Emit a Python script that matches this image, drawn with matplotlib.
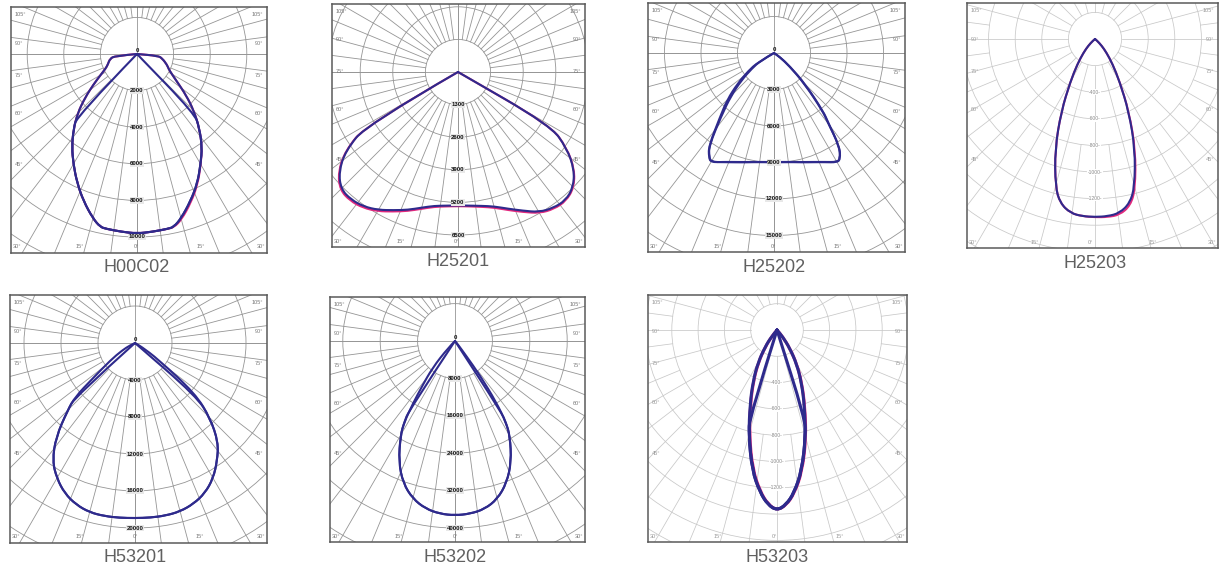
#!/usr/bin/env python3
"""配光曲线图 (7 个灯具型号的极坐标光强分布)"""

import matplotlib
matplotlib.use('Agg')
import numpy as np
import matplotlib.pyplot as plt
from matplotlib.patches import Circle, PathPatch
from matplotlib.path import Path

plt.rcParams['font.family'] = ['Liberation Sans', 'DejaVu Sans']

FIG_W, FIG_H = 1220, 571
DPI = 100
BLUE = '#2e2a8c'
PINK = '#e2287d'

# ---- 数据: 角度(度, 0 = 正下方, 左负右正) 与 光强(cd) ----
H00C02_ANG_A = [-90, -85, -80, -70, -65, -60, -55, -50, -45, -40, -35, -30, -25, -20, -15, -12, -10, -5, 0,
                5, 10, 12, 15, 20, 25, 30, 35, 40, 45, 50, 55, 60, 65, 70, 80, 85, 90]
H00C02_A = [0, 1200, 1500, 1700, 1900, 2300, 2900, 3700, 4600, 5400, 6200, 6950, 7750, 8550, 9300, 9660, 9700, 9750, 9810,
            9750, 9700, 9660, 9300, 8550, 7800, 6950, 6200, 5300, 4400, 3500, 2700, 2200, 1900, 1750, 1400, 1150, 0]
H00C02_M = [0, 1200, 1500, 1700, 1900, 2300, 2900, 3700, 4600, 5400, 6200, 6950, 7750, 8550, 9300, 9660, 9700, 9750, 9810,
            9750, 9700, 9680, 9380, 8630, 7850, 6970, 6200, 5300, 4400, 3500, 2700, 2200, 1900, 1750, 1400, 1150, 0]
H00C02_ANG_B = [-90, -44, -40, -35, -30, -25, -20, -15, -12, -10, -5, 0, 5, 10, 12, 15, 20, 25, 30, 35, 40, 44, 90]
H00C02_B = [0, 4750, 5400, 6200, 6950, 7750, 8550, 9300, 9660, 9700, 9750, 9810, 9750, 9700, 9660, 9300, 8550, 7800,
            6950, 6200, 5300, 4550, 0]

H25201_ANG = [-90, -60, -55, -50, -45, -40, -35, -30, -25, -20, -15, -10, -5, 0, 5, 10, 15, 20, 25, 30, 35, 40, 45,
              50, 55, 60, 90]
H25201_B = [0, 4200, 5475, 6200, 6600, 6640, 6550, 6350, 6080, 5850, 5600, 5420, 5350, 5320, 5350, 5420, 5550, 5800,
            6100, 6450, 6620, 6680, 6500, 6050, 5300, 4250, 0]
H25201_M = [0, 4220, 5500, 6240, 6650, 6700, 6610, 6410, 6140, 5900, 5650, 5460, 5380, 5350, 5380, 5460, 5600, 5860,
            6160, 6500, 6670, 6710, 6530, 6070, 5310, 4260, 0]

H25202_ANG = [-90, -60, -55, -50, -45, -40, -35, -32, -30, -25, -20, -15, -10, -5, 0, 5, 10, 15, 20, 25, 30, 32, 35,
              38, 40, 45, 50, 55, 60, 90]
H25202_C0 = [0, 1540, 2590, 3900, 5440, 6930, 9350, 10100, 10370, 9880, 9530, 9280, 9090, 8990, 8960, 8990, 9090, 9280,
             9530, 9880, 10350, 10250, 9370, 7190, 6370, 3700, 1700, 620, 0, 0]
H25202_C90 = [0, 1300, 2200, 3500, 5000, 6700, 9300, 10050, 10330, 9900, 9560, 9300, 9110, 9010, 8980, 9010, 9110, 9300,
              9550, 9900, 10380, 10280, 9400, 7100, 6200, 3500, 1550, 550, 0, 0]

H25203_ANG = [-90, -50, -45, -40, -35, -30, -25, -20, -15, -12, -8, -4, 0, 4, 8, 12, 15, 20, 25, 30, 35, 40, 45, 50, 90]
H25203_B = [0, 20, 70, 135, 230, 370, 600, 880, 1150, 1261, 1322, 1336, 1338, 1336, 1322, 1261, 1150, 880, 600, 370,
            230, 135, 70, 20, 0]
H25203_M = [0, 20, 70, 135, 230, 370, 600, 880, 1150, 1261, 1322, 1336, 1340, 1342, 1335, 1280, 1168, 892, 606, 372,
            231, 135, 70, 20, 0]

H53201_ANG_O = [-90, -65, -60, -55, -50, -48, -45, -40, -35, -30, -25, -20, -15, -10, -5, 0, 5, 10, 15, 20, 25, 30,
                35, 40, 45, 50, 55, 60, 90]
H53201_O = [0, 600, 1600, 3200, 6000, 8700, 10300, 13300, 15550, 16900, 17950, 18600, 18950, 19000, 18970, 18930,
            18950, 18950, 18850, 18500, 17900, 16900, 15500, 14000, 11500, 8500, 3000, 800, 0]
H53201_ANG_I = [-90, -48, -45, -40, -35, -30, -25, -20, -15, -10, -5, 0, 5, 10, 15, 20, 25, 30, 35, 40, 45, 49, 90]
H53201_I = [0, 8700, 10300, 13300, 15550, 16900, 17950, 18600, 18950, 19000, 18970, 18930, 18950, 18950, 18850, 18500,
            17900, 16900, 15500, 14000, 11500, 8800, 0]

H53202_ANG_O = [-90, -45, -40, -36, -34, -32, -30, -25, -20, -15, -10, -5, 0, 5, 10, 15, 20, 25, 30, 32, 34, 36, 37,
                40, 90]
H53202_O = [0, 2000, 7500, 12000, 16000, 20500, 23300, 28500, 32400, 34900, 36400, 37100, 37300, 37100, 36500, 35000,
            32300, 28500, 23500, 20600, 15800, 9000, 4000, 1000, 0]
H53202_ANG_I = [-90, -33.5, -32, -30, -25, -20, -15, -10, -5, 0, 5, 10, 15, 20, 25, 30, 32, 33, 90]
H53202_I = [0, 17900, 20500, 23300, 28500, 32400, 34900, 36400, 37100, 37300, 37100, 36500, 35000, 32300, 28500,
            23500, 20600, 18200, 0]

H53203_ANG_O = [-90, -40, -35, -30, -25, -20, -15, -10, -6, -3, 0, 3, 6, 10, 15, 20, 25, 30, 35, 40, 90]
H53203_O = [0, 60, 160, 290, 430, 600, 830, 1085, 1240, 1330, 1372, 1330, 1245, 1085, 840, 610, 440, 300, 170, 65, 0]
H53203_M = [0, 56, 153, 282, 420, 590, 815, 1072, 1232, 1326, 1372, 1334, 1252, 1096, 854, 620, 447, 304, 172, 66, 0]
H53203_ANG_I = [-90, -17.5, -15, -10, -6, -3, 0, 3, 6, 10, 15, 17.5, 90]
H53203_I = [0, 690, 830, 1085, 1240, 1330, 1372, 1330, 1245, 1085, 840, 700, 0]

SIDE_LABELS = ['105°', '90°', '75°', '60°', '45°']
BOTTOM_LABELS = ['30°', '15°', '0°', '15°', '30°']

# 面板布局 (像素): 框 x0, y0, x1, y1, 中心 cx, cy, 每格像素, 每格光强
PANELS = [
    {'name': 'H00C02', 'box': (11, 7, 267, 253), 'center': (137, 54), 'step_px': 36.6, 'step': 2000,
     'style': 'A', 'zero': True, 'lw': 1.5,
     'curves': [(H00C02_ANG_A, H00C02_M, PINK), (H00C02_ANG_A, H00C02_A, BLUE), (H00C02_ANG_B, H00C02_B, BLUE)]},
    {'name': 'H25201', 'box': (332, 4, 585, 247), 'center': (458, 72), 'step_px': 32.6, 'step': 1300,
     'style': 'A', 'zero': False, 'lw': 1.5,
     'curves': [(H25201_ANG, H25201_M, PINK), (H25201_ANG, H25201_B, BLUE)]},
    {'name': 'H25202', 'box': (648, 3, 905, 252), 'center': (774, 53), 'step_px': 36.5, 'step': 3000,
     'style': 'A', 'zero': True, 'lw': 1.5,
     'curves': [(H25202_ANG, H25202_C90, BLUE), (H25202_ANG, H25202_C0, BLUE)]},
    {'name': 'H25203', 'box': (967, 3, 1218, 248), 'center': (1095, 39), 'step_px': 26.6, 'step': 200,
     'style': 'B', 'zero': False, 'lw': 1.5,
     'curves': [(H25203_ANG, H25203_M, PINK), (H25203_ANG, H25203_B, BLUE)]},
    {'name': 'H53201', 'box': (10, 295, 267, 543), 'center': (135, 343), 'step_px': 37.0, 'step': 4000,
     'style': 'A', 'zero': True, 'lw': 1.5,
     'curves': [(H53201_ANG_O, H53201_O, BLUE), (H53201_ANG_I, H53201_I, BLUE)]},
    {'name': 'H53202', 'box': (330, 297, 585, 542), 'center': (455, 341), 'step_px': 37.4, 'step': 8000,
     'style': 'A', 'zero': True, 'lw': 1.5,
     'curves': [(H53202_ANG_O, H53202_O, BLUE), (H53202_ANG_I, H53202_I, BLUE)]},
    {'name': 'H53203', 'box': (648, 295, 907, 542), 'center': (777, 330), 'step_px': 26.3, 'step': 200,
     'style': 'B', 'zero': False, 'lw': 2.2,
     'curves': [(H53203_ANG_O, H53203_M, PINK), (H53203_ANG_O, H53203_O, BLUE), (H53203_ANG_I, H53203_I, BLUE)]},
]


def smooth_curve(x, y):
    """用二次贝塞尔把测点连成光滑曲线 (测点作控制点)"""
    verts = [(x[0], y[0])]
    codes = [Path.MOVETO]
    for i in range(1, len(x) - 1):
        verts.append((x[i], y[i]))
        verts.append(((x[i] + x[i + 1]) / 2, (y[i] + y[i + 1]) / 2))
        codes += [Path.CURVE3, Path.CURVE3]
    verts.append((x[-1], y[-1]))
    codes.append(Path.LINETO)
    return Path(verts, codes)


def draw_grid(ax, step, rmax, style):
    """画同心圆与放射线"""
    if style == 'A':
        color, lw, dang = '#959595', 0.6, 7.5
    else:
        color, lw, dang = '#c8c8c8', 0.55, 15
    n = int(rmax / step) + 2
    for k in range(1, n):
        ax.add_patch(Circle((0, 0), k * step, fill=False, ec=color, lw=lw, zorder=1))
    for a in np.arange(0, 360, dang):
        t = np.radians(a)
        ax.plot([step * np.sin(t), rmax * np.sin(t)], [step * np.cos(t), rmax * np.cos(t)],
                color=color, lw=lw, zorder=1)
    if style == 'A':
        ax.plot([-rmax, rmax], [0, 0], color=color, lw=lw, zorder=1)
        ax.plot([0, 0], [-rmax, rmax], color=color, lw=lw, zorder=1)
    else:
        # 外圈加密的放射线
        for a in np.arange(7.5, 360, 15):
            t = np.radians(a)
            ax.plot([4 * step * np.sin(t), rmax * np.sin(t)], [4 * step * np.cos(t), rmax * np.cos(t)],
                    color=color, lw=lw, zorder=1)


def draw_panel(fig, p):
    x0, y0, x1, y1 = p['box']
    cx, cy = p['center']
    k = p['step'] / p['step_px']  # cd / px
    ax = fig.add_axes([x0 / FIG_W, 1 - y1 / FIG_H, (x1 - x0) / FIG_W, (y1 - y0) / FIG_H])
    ax.set_xlim((x0 - cx) * k, (x1 - cx) * k)
    ax.set_ylim((y1 - cy) * k, (y0 - cy) * k)
    ax.set_aspect('auto')
    ax.set_xticks([])
    ax.set_yticks([])
    for sp in ax.spines.values():
        sp.set_color('#5a5a5a')
        sp.set_linewidth(1.1)

    rmax = np.hypot(max(cx - x0, x1 - cx), max(cy - y0, y1 - cy)) * k * 1.05
    draw_grid(ax, p['step'], rmax, p['style'])

    # 光强刻度
    if p['style'] == 'A':
        for i in range(1, 6):
            ax.text(0, i * p['step'], str(i * p['step']), ha='center', va='center', fontsize=4.3,
                    fontweight='bold', color='#111111', zorder=4,
                    bbox=dict(boxstyle='square,pad=0.12', fc='#e8e8e8', ec='none'))
        if p['zero']:
            ax.text(0, -3.5 * k, '0', ha='center', va='center', fontsize=4.3, fontweight='bold',
                    color='#111111', zorder=4)
    else:
        for i in range(2, 7):
            ax.text(0, i * p['step'], f'-{i * p["step"]}-', ha='center', va='center', fontsize=3.6,
                    color='#888888', zorder=4,
                    bbox=dict(boxstyle='square,pad=0.05', fc='white', ec='none'))

    # 角度标签 (固定在框内)
    fy = [0.03, 0.148, 0.278, 0.434, 0.64]
    lab_color = '#777777' if p['style'] == 'A' else '#999999'
    for f, lab in zip(fy, SIDE_LABELS):
        yy = (y0 + f * (y1 - y0) - cy) * k
        ax.text((x0 + 4 - cx) * k, yy, lab, ha='left', va='center', fontsize=4, color=lab_color, zorder=4)
        ax.text((x1 - 4 - cx) * k, yy, lab, ha='right', va='center', fontsize=4, color=lab_color, zorder=4)
    fx = [0.025, 0.27, 0.49, 0.74, 0.975]
    for f, lab in zip(fx, BOTTOM_LABELS):
        xx = (x0 + f * (x1 - x0) - cx) * k
        ax.text(xx, (y1 - 6 - cy) * k, lab, ha='center', va='center', fontsize=4, color=lab_color, zorder=4)

    # 配光曲线
    for ang, val, color in p['curves']:
        t = np.radians(ang)
        r = np.asarray(val, dtype=float)
        path = smooth_curve(r * np.sin(t), r * np.cos(t))
        ax.add_patch(PathPatch(path, fill=False, ec=color, lw=p['lw'], zorder=3,
                               joinstyle='round', capstyle='round'))

    # 型号名称
    fig.text(cx / FIG_W, 1 - (y1 + 15) / FIG_H, p['name'], ha='center', va='center',
             fontsize=13, color='#606060')


def main():
    fig = plt.figure(figsize=(FIG_W / DPI, FIG_H / DPI), dpi=DPI)
    fig.patch.set_facecolor('white')
    for p in PANELS:
        draw_panel(fig, p)
    fig.savefig('out.png', dpi=DPI, facecolor='white')
    plt.close(fig)


if __name__ == '__main__':
    main()
